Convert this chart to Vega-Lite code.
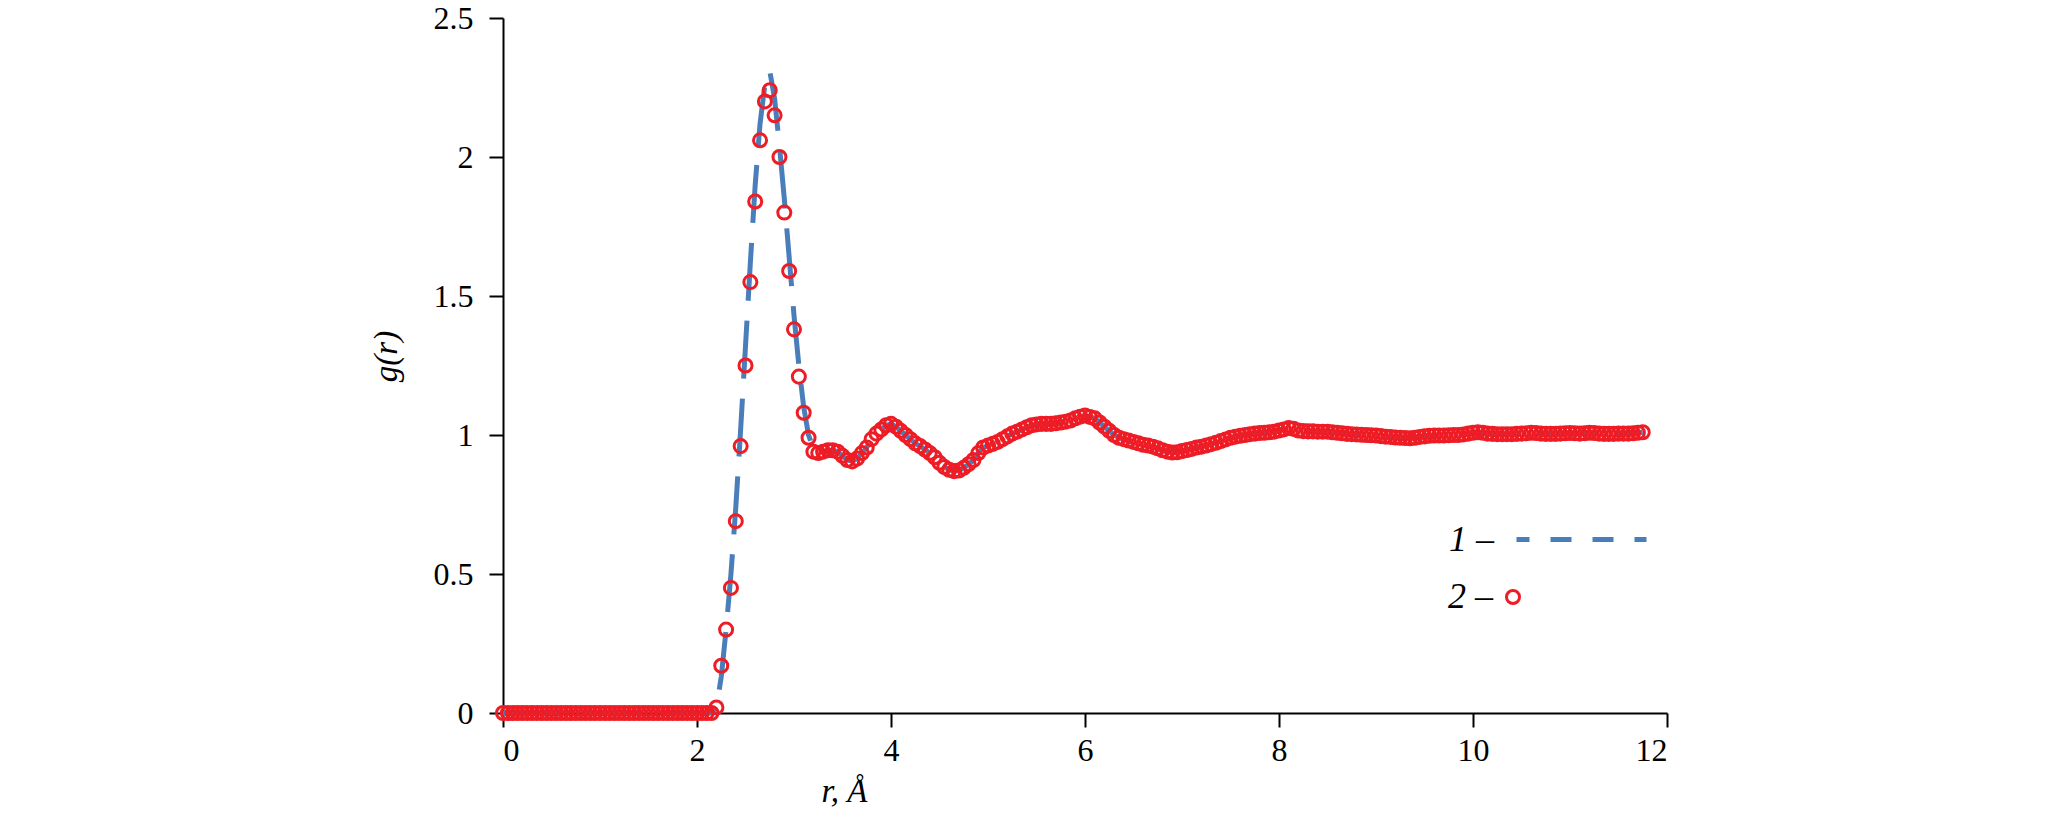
{
  "$schema": "https://vega.github.io/schema/vega-lite/v6.json",
  "width": 1164,
  "height": 695,
  "autosize": {"type": "none"},
  "padding": {"left": 503, "top": 18, "right": 400, "bottom": 100},
  "background": "white",
  "config": {
    "font": "Liberation Serif",
    "view": {"stroke": null},
    "axis": {
      "grid": false,
      "domainColor": "black",
      "domainWidth": 2,
      "tickColor": "black",
      "tickWidth": 2,
      "tickSize": 14,
      "labelColor": "black",
      "labelFont": "Liberation Serif",
      "labelFontSize": 32,
      "titleColor": "black",
      "titleFont": "Liberation Serif",
      "titleFontSize": 33,
      "titleFontStyle": "italic",
      "titleFontWeight": "normal"
    }
  },
  "data": {
    "values": [
      {"r": 0, "g1": 0, "g2": 0}, {"r": 0.05, "g1": 0, "g2": 0}, {"r": 0.1, "g1": 0, "g2": 0}, {"r": 0.15, "g1": 0, "g2": 0},
      {"r": 0.2, "g1": 0, "g2": 0}, {"r": 0.25, "g1": 0, "g2": 0}, {"r": 0.3, "g1": 0, "g2": 0}, {"r": 0.35, "g1": 0, "g2": 0},
      {"r": 0.4, "g1": 0, "g2": 0}, {"r": 0.45, "g1": 0, "g2": 0}, {"r": 0.5, "g1": 0, "g2": 0}, {"r": 0.55, "g1": 0, "g2": 0},
      {"r": 0.6, "g1": 0, "g2": 0}, {"r": 0.65, "g1": 0, "g2": 0}, {"r": 0.7, "g1": 0, "g2": 0}, {"r": 0.75, "g1": 0, "g2": 0},
      {"r": 0.8, "g1": 0, "g2": 0}, {"r": 0.85, "g1": 0, "g2": 0}, {"r": 0.9, "g1": 0, "g2": 0}, {"r": 0.95, "g1": 0, "g2": 0},
      {"r": 1.0, "g1": 0, "g2": 0}, {"r": 1.05, "g1": 0, "g2": 0}, {"r": 1.1, "g1": 0, "g2": 0}, {"r": 1.15, "g1": 0, "g2": 0},
      {"r": 1.2, "g1": 0, "g2": 0}, {"r": 1.25, "g1": 0, "g2": 0}, {"r": 1.3, "g1": 0, "g2": 0}, {"r": 1.35, "g1": 0, "g2": 0},
      {"r": 1.4, "g1": 0, "g2": 0}, {"r": 1.45, "g1": 0, "g2": 0}, {"r": 1.5, "g1": 0, "g2": 0}, {"r": 1.55, "g1": 0, "g2": 0},
      {"r": 1.6, "g1": 0, "g2": 0}, {"r": 1.65, "g1": 0, "g2": 0}, {"r": 1.7, "g1": 0, "g2": 0}, {"r": 1.75, "g1": 0, "g2": 0},
      {"r": 1.8, "g1": 0, "g2": 0}, {"r": 1.85, "g1": 0, "g2": 0}, {"r": 1.9, "g1": 0, "g2": 0}, {"r": 1.95, "g1": 0, "g2": 0},
      {"r": 2.0, "g1": 0, "g2": 0}, {"r": 2.05, "g1": 0, "g2": 0}, {"r": 2.1, "g1": 0, "g2": 0}, {"r": 2.15, "g1": 0, "g2": 0},
      {"r": 2.2, "g1": 0.02, "g2": 0.02}, {"r": 2.25, "g1": 0.13, "g2": 0.17}, {"r": 2.3, "g1": 0.3, "g2": 0.3},
      {"r": 2.35, "g1": 0.5, "g2": 0.45}, {"r": 2.4, "g1": 0.74, "g2": 0.69}, {"r": 2.45, "g1": 1.02, "g2": 0.96},
      {"r": 2.5, "g1": 1.32, "g2": 1.25}, {"r": 2.55, "g1": 1.62, "g2": 1.55}, {"r": 2.6, "g1": 1.9, "g2": 1.84},
      {"r": 2.65, "g1": 2.12, "g2": 2.06}, {"r": 2.7, "g1": 2.26, "g2": 2.2}, {"r": 2.75, "g1": 2.31, "g2": 2.24},
      {"r": 2.8, "g1": 2.21, "g2": 2.15}, {"r": 2.85, "g1": 2.04, "g2": 2.0}, {"r": 2.9, "g1": 1.85, "g2": 1.8},
      {"r": 2.95, "g1": 1.64, "g2": 1.59}, {"r": 3.0, "g1": 1.43, "g2": 1.38}, {"r": 3.05, "g1": 1.25, "g2": 1.21},
      {"r": 3.1, "g1": 1.1, "g2": 1.08}, {"r": 3.15, "g1": 1.0, "g2": 0.99}, {"r": 3.2, "g1": 0.95, "g2": 0.94},
      {"r": 3.25, "g1": 0.935, "g2": 0.935}, {"r": 3.3, "g1": 0.94, "g2": 0.94}, {"r": 3.35, "g1": 0.945, "g2": 0.945},
      {"r": 3.4, "g1": 0.945, "g2": 0.945}, {"r": 3.45, "g1": 0.94, "g2": 0.94}, {"r": 3.5, "g1": 0.925, "g2": 0.925},
      {"r": 3.55, "g1": 0.91, "g2": 0.91}, {"r": 3.6, "g1": 0.905, "g2": 0.905}, {"r": 3.65, "g1": 0.915, "g2": 0.915},
      {"r": 3.7, "g1": 0.935, "g2": 0.935}, {"r": 3.75, "g1": 0.955, "g2": 0.955}, {"r": 3.8, "g1": 0.985, "g2": 0.985},
      {"r": 3.85, "g1": 1.005, "g2": 1.005}, {"r": 3.9, "g1": 1.02, "g2": 1.02}, {"r": 3.95, "g1": 1.035, "g2": 1.035},
      {"r": 4.0, "g1": 1.04, "g2": 1.04}, {"r": 4.05, "g1": 1.03, "g2": 1.03}, {"r": 4.1, "g1": 1.015, "g2": 1.015},
      {"r": 4.15, "g1": 1.0, "g2": 1.0}, {"r": 4.2, "g1": 0.985, "g2": 0.985}, {"r": 4.25, "g1": 0.97, "g2": 0.97},
      {"r": 4.3, "g1": 0.96, "g2": 0.96}, {"r": 4.35, "g1": 0.948, "g2": 0.948}, {"r": 4.4, "g1": 0.935, "g2": 0.935},
      {"r": 4.45, "g1": 0.92, "g2": 0.92}, {"r": 4.5, "g1": 0.9, "g2": 0.9}, {"r": 4.55, "g1": 0.885, "g2": 0.885},
      {"r": 4.6, "g1": 0.875, "g2": 0.875}, {"r": 4.65, "g1": 0.87, "g2": 0.87}, {"r": 4.7, "g1": 0.872, "g2": 0.872},
      {"r": 4.75, "g1": 0.882, "g2": 0.882}, {"r": 4.8, "g1": 0.895, "g2": 0.895}, {"r": 4.85, "g1": 0.91, "g2": 0.91},
      {"r": 4.9, "g1": 0.935, "g2": 0.935}, {"r": 4.95, "g1": 0.955, "g2": 0.955}, {"r": 5.0, "g1": 0.962, "g2": 0.962},
      {"r": 5.05, "g1": 0.968, "g2": 0.968}, {"r": 5.1, "g1": 0.975, "g2": 0.975}, {"r": 5.15, "g1": 0.985, "g2": 0.985},
      {"r": 5.2, "g1": 0.995, "g2": 0.995}, {"r": 5.25, "g1": 1.005, "g2": 1.005}, {"r": 5.3, "g1": 1.012, "g2": 1.012},
      {"r": 5.35, "g1": 1.02, "g2": 1.02}, {"r": 5.4, "g1": 1.028, "g2": 1.028}, {"r": 5.45, "g1": 1.035, "g2": 1.035},
      {"r": 5.5, "g1": 1.038, "g2": 1.038}, {"r": 5.55, "g1": 1.04, "g2": 1.04}, {"r": 5.6, "g1": 1.04, "g2": 1.04},
      {"r": 5.65, "g1": 1.04, "g2": 1.04}, {"r": 5.7, "g1": 1.042, "g2": 1.042}, {"r": 5.75, "g1": 1.045, "g2": 1.045},
      {"r": 5.8, "g1": 1.048, "g2": 1.048}, {"r": 5.85, "g1": 1.052, "g2": 1.052}, {"r": 5.9, "g1": 1.06, "g2": 1.06},
      {"r": 5.95, "g1": 1.066, "g2": 1.066}, {"r": 6.0, "g1": 1.07, "g2": 1.07}, {"r": 6.05, "g1": 1.065, "g2": 1.065},
      {"r": 6.1, "g1": 1.06, "g2": 1.06}, {"r": 6.15, "g1": 1.045, "g2": 1.045}, {"r": 6.2, "g1": 1.03, "g2": 1.03},
      {"r": 6.25, "g1": 1.015, "g2": 1.015}, {"r": 6.3, "g1": 1.0, "g2": 1.0}, {"r": 6.35, "g1": 0.99, "g2": 0.99},
      {"r": 6.4, "g1": 0.985, "g2": 0.985}, {"r": 6.45, "g1": 0.98, "g2": 0.98}, {"r": 6.5, "g1": 0.975, "g2": 0.975},
      {"r": 6.55, "g1": 0.97, "g2": 0.97}, {"r": 6.6, "g1": 0.965, "g2": 0.965}, {"r": 6.65, "g1": 0.962, "g2": 0.962},
      {"r": 6.7, "g1": 0.958, "g2": 0.958}, {"r": 6.75, "g1": 0.952, "g2": 0.952}, {"r": 6.8, "g1": 0.945, "g2": 0.945},
      {"r": 6.85, "g1": 0.94, "g2": 0.94}, {"r": 6.9, "g1": 0.937, "g2": 0.937}, {"r": 6.95, "g1": 0.938, "g2": 0.938},
      {"r": 7.0, "g1": 0.942, "g2": 0.942}, {"r": 7.05, "g1": 0.946, "g2": 0.946}, {"r": 7.1, "g1": 0.95, "g2": 0.95},
      {"r": 7.15, "g1": 0.955, "g2": 0.955}, {"r": 7.2, "g1": 0.958, "g2": 0.958}, {"r": 7.25, "g1": 0.962, "g2": 0.962},
      {"r": 7.3, "g1": 0.967, "g2": 0.967}, {"r": 7.35, "g1": 0.972, "g2": 0.972}, {"r": 7.4, "g1": 0.978, "g2": 0.978},
      {"r": 7.45, "g1": 0.984, "g2": 0.984}, {"r": 7.5, "g1": 0.99, "g2": 0.99}, {"r": 7.55, "g1": 0.994, "g2": 0.994},
      {"r": 7.6, "g1": 0.997, "g2": 0.997}, {"r": 7.65, "g1": 1.0, "g2": 1.0}, {"r": 7.7, "g1": 1.003, "g2": 1.003},
      {"r": 7.75, "g1": 1.005, "g2": 1.005}, {"r": 7.8, "g1": 1.007, "g2": 1.007}, {"r": 7.85, "g1": 1.008, "g2": 1.008},
      {"r": 7.9, "g1": 1.01, "g2": 1.01}, {"r": 7.95, "g1": 1.012, "g2": 1.012}, {"r": 8.0, "g1": 1.016, "g2": 1.016},
      {"r": 8.05, "g1": 1.02, "g2": 1.02}, {"r": 8.1, "g1": 1.025, "g2": 1.025}, {"r": 8.15, "g1": 1.022, "g2": 1.022},
      {"r": 8.2, "g1": 1.016, "g2": 1.016}, {"r": 8.25, "g1": 1.014, "g2": 1.014}, {"r": 8.3, "g1": 1.013, "g2": 1.013},
      {"r": 8.35, "g1": 1.013, "g2": 1.013}, {"r": 8.4, "g1": 1.012, "g2": 1.012}, {"r": 8.45, "g1": 1.012, "g2": 1.012},
      {"r": 8.5, "g1": 1.012, "g2": 1.012}, {"r": 8.55, "g1": 1.01, "g2": 1.01}, {"r": 8.6, "g1": 1.008, "g2": 1.008},
      {"r": 8.65, "g1": 1.006, "g2": 1.006}, {"r": 8.7, "g1": 1.004, "g2": 1.004}, {"r": 8.75, "g1": 1.003, "g2": 1.003},
      {"r": 8.8, "g1": 1.002, "g2": 1.002}, {"r": 8.85, "g1": 1.001, "g2": 1.001}, {"r": 8.9, "g1": 1.0, "g2": 1.0},
      {"r": 8.95, "g1": 0.999, "g2": 0.999}, {"r": 9.0, "g1": 0.998, "g2": 0.998}, {"r": 9.05, "g1": 0.996, "g2": 0.996},
      {"r": 9.1, "g1": 0.994, "g2": 0.994}, {"r": 9.15, "g1": 0.993, "g2": 0.993}, {"r": 9.2, "g1": 0.991, "g2": 0.991},
      {"r": 9.25, "g1": 0.99, "g2": 0.99}, {"r": 9.3, "g1": 0.989, "g2": 0.989}, {"r": 9.35, "g1": 0.988, "g2": 0.988},
      {"r": 9.4, "g1": 0.99, "g2": 0.99}, {"r": 9.45, "g1": 0.993, "g2": 0.993}, {"r": 9.5, "g1": 0.995, "g2": 0.995},
      {"r": 9.55, "g1": 0.997, "g2": 0.997}, {"r": 9.6, "g1": 0.998, "g2": 0.998}, {"r": 9.65, "g1": 0.998, "g2": 0.998},
      {"r": 9.7, "g1": 0.998, "g2": 0.998}, {"r": 9.75, "g1": 0.999, "g2": 0.999}, {"r": 9.8, "g1": 1.0, "g2": 1.0},
      {"r": 9.85, "g1": 1.0, "g2": 1.0}, {"r": 9.9, "g1": 1.002, "g2": 1.002}, {"r": 9.95, "g1": 1.005, "g2": 1.005},
      {"r": 10.0, "g1": 1.008, "g2": 1.008}, {"r": 10.05, "g1": 1.01, "g2": 1.01}, {"r": 10.1, "g1": 1.008, "g2": 1.008},
      {"r": 10.15, "g1": 1.005, "g2": 1.005}, {"r": 10.2, "g1": 1.004, "g2": 1.004}, {"r": 10.25, "g1": 1.003, "g2": 1.003},
      {"r": 10.3, "g1": 1.003, "g2": 1.003}, {"r": 10.35, "g1": 1.003, "g2": 1.003}, {"r": 10.4, "g1": 1.003, "g2": 1.003},
      {"r": 10.45, "g1": 1.004, "g2": 1.004}, {"r": 10.5, "g1": 1.005, "g2": 1.005}, {"r": 10.55, "g1": 1.006, "g2": 1.006},
      {"r": 10.6, "g1": 1.008, "g2": 1.008}, {"r": 10.65, "g1": 1.007, "g2": 1.007}, {"r": 10.7, "g1": 1.005, "g2": 1.005},
      {"r": 10.75, "g1": 1.004, "g2": 1.004}, {"r": 10.8, "g1": 1.004, "g2": 1.004}, {"r": 10.85, "g1": 1.004, "g2": 1.004},
      {"r": 10.9, "g1": 1.005, "g2": 1.005}, {"r": 10.95, "g1": 1.006, "g2": 1.006}, {"r": 11.0, "g1": 1.007, "g2": 1.007},
      {"r": 11.05, "g1": 1.006, "g2": 1.006}, {"r": 11.1, "g1": 1.005, "g2": 1.005}, {"r": 11.15, "g1": 1.006, "g2": 1.006},
      {"r": 11.2, "g1": 1.008, "g2": 1.008}, {"r": 11.25, "g1": 1.007, "g2": 1.007}, {"r": 11.3, "g1": 1.005, "g2": 1.005},
      {"r": 11.35, "g1": 1.004, "g2": 1.004}, {"r": 11.4, "g1": 1.004, "g2": 1.004}, {"r": 11.45, "g1": 1.004, "g2": 1.004},
      {"r": 11.5, "g1": 1.005, "g2": 1.005}, {"r": 11.55, "g1": 1.005, "g2": 1.005}, {"r": 11.6, "g1": 1.005, "g2": 1.005},
      {"r": 11.65, "g1": 1.006, "g2": 1.006}, {"r": 11.7, "g1": 1.008, "g2": 1.008}, {"r": 11.75, "g1": 1.01, "g2": 1.01}
    ]
  },
  "encoding": {
    "x": {
      "field": "r",
      "type": "quantitative",
      "scale": {"domain": [0, 12], "nice": false, "zero": true},
      "axis": {
        "values": [0, 2, 4, 6, 8, 10, 12],
        "format": "~g",
        "labelPadding": 8,
        "title": "r, Å",
        "titleX": 341,
        "titleY": 78,
        "titleAlign": "center",
        "titleBaseline": "middle"
      }
    }
  },
  "layer": [
    {
      "mark": {"type": "line", "color": "#4a7ebb", "strokeWidth": 5, "strokeCap": "butt", "strokeDash": [58, 20]},
      "encoding": {
        "y": {
          "field": "g1",
          "type": "quantitative",
          "title": "g(r)",
          "scale": {"domain": [0, 2.5], "nice": false},
          "axis": {
            "values": [0, 0.5, 1, 1.5, 2, 2.5],
            "format": "~g",
            "labelPadding": 16,
            "titleX": -117,
            "titleY": 338,
            "titleAngle": -90,
            "titleAlign": "center",
            "titleBaseline": "middle"
          }
        },
        "opacity": {
          "datum": "1 –",
          "scale": {"range": [1, 1]},
          "legend": {
            "orient": "none",
            "legendX": 1011,
            "legendY": 454,
            "padding": 0,
            "title": null,
            "symbolType": "stroke",
            "symbolSize": 16900,
            "symbolStrokeWidth": 5,
            "symbolStrokeColor": "#4a7ebb",
            "symbolDash": [21, 21],
            "symbolDashOffset": 8,
            "labelFont": "Liberation Serif",
            "labelFontSize": 36,
            "labelFontStyle": "italic",
            "labelColor": "black",
            "labelAlign": "right",
            "labelOffset": -155,
            "labelLimit": 0,
            "encode": {"symbols": {"update": {"strokeDash": {"value": [21, 21]}, "strokeDashOffset": {"value": 8}, "stroke": {"value": "#4a7ebb"}}}}
          }
        }
      }
    },
    {
      "mark": {"type": "point", "shape": "circle", "filled": false, "color": "#ee1c25", "strokeWidth": 3, "size": 170, "opacity": 1},
      "encoding": {
        "y": {"field": "g2", "type": "quantitative", "title": "g(r)"},
        "shape": {
          "datum": "2 –",
          "scale": {"range": ["circle"]},
          "legend": {
            "orient": "none",
            "legendX": 992,
            "legendY": 561,
            "padding": 0,
            "title": null,
            "symbolType": "circle",
            "symbolSize": 170,
            "symbolStrokeWidth": 3,
            "symbolStrokeColor": "#ee1c25",
            "symbolFillColor": "transparent",
            "symbolOpacity": 1,
            "labelFont": "Liberation Serif",
            "labelFontSize": 36,
            "labelFontStyle": "italic",
            "labelColor": "black",
            "labelAlign": "right",
            "labelOffset": -38,
            "labelLimit": 0
          }
        }
      }
    }
  ]
}
